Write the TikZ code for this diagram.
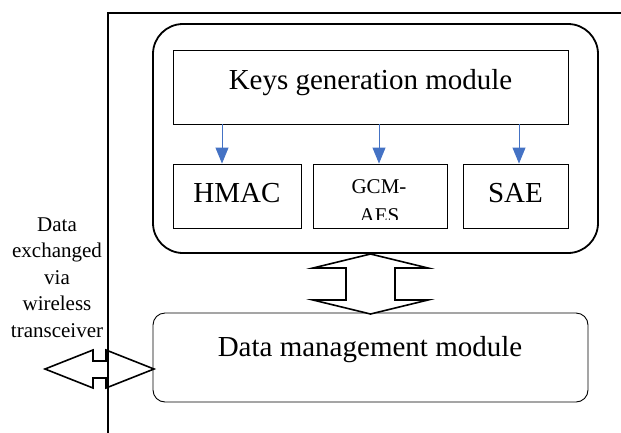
\documentclass[tikz,border=0pt]{standalone}
\usepackage{fontspec}
\setmainfont{Liberation Serif}
\usetikzlibrary{arrows.meta}
\definecolor{keyblue}{RGB}{68,114,196}
\begin{document}
\begin{tikzpicture}[x=1pt,y=-1pt,
  thinbox/.style={draw=black,line width=0.9pt,inner sep=0pt},
  heavy/.style={draw=black,line width=1.8pt},
  bigtext/.style={font=\fontsize{29}{34}\selectfont,inner sep=0pt},
  smalltext/.style={font=\fontsize{21}{26.5}\selectfont,inner sep=0pt},
  keyarrow/.style={draw=keyblue,line width=0.9pt,-{Triangle[length=16pt,width=13pt]}},
  blockarrow/.style={draw=black,line width=1.6pt,line join=miter,fill=white}]
\useasboundingbox (0,0) rectangle (621,432);

% outer enclosure (open to the right and bottom)
\draw[heavy] (625,13) -- (108,13) -- (108,436);

% security block
\node[heavy,rounded corners=30pt,minimum width=445pt,minimum height=229pt,inner sep=0pt]
  (crypto) at (375.5,138.5) {};
\node[thinbox,minimum width=395pt,minimum height=74pt] (keys) at (370.5,87) {};
\node[bigtext,anchor=base] (keyslabel) at (370.5,89) {Keys generation module};

\node[thinbox,minimum width=128pt,minimum height=64pt] (hmac) at (237,196) {};
\node[thinbox,minimum width=134pt,minimum height=64pt] (gcm) at (380,196) {};
\node[thinbox,minimum width=105pt,minimum height=64pt] (sae) at (515.5,196) {};

\node[bigtext,anchor=base] (hmaclabel) at (237,202) {HMAC};
\node[bigtext,anchor=base] (saelabel) at (515.5,202) {SAE};
\begin{scope}
  \clip (313,164) rectangle (447,219.5);
  \node[smalltext,anchor=base] (gcmlabel) at (379,193) {GCM-};
  \node[smalltext,anchor=base] (aeslabel) at (379.5,222) {AES};
\end{scope}

% key distribution arrows
\coordinate (k1) at (222,0);
\coordinate (k2) at (379,0);
\coordinate (k3) at (519,0);
\draw[keyarrow] (keys.south -| k1) -- (hmac.north -| k1);
\draw[keyarrow] (keys.south -| k2) -- (gcm.north -| k2);
\draw[keyarrow] (keys.south -| k3) -- (sae.north -| k3);

% data management block
\node[thinbox,rounded corners=12pt,minimum width=435pt,minimum height=89pt]
  (dm) at (370.5,357.5) {};
\node[bigtext,anchor=base] (dmlabel) at (370,356) {Data management module};

% two-way block arrow between the blocks
\draw[blockarrow] (370.5,254) -- (428,268) -- (395,268) -- (395,300) -- (428,300)
  -- (370.5,314) -- (313,300) -- (346,300) -- (346,268) -- (313,268) -- cycle;

% two-way block arrow to the outside
\draw[blockarrow,fill=none] (45,369) -- (93,350) -- (93,361) -- (106,361) -- (106,350)
  -- (154,369) -- (106,388) -- (106,378) -- (93,378) -- (93,388) -- cycle;

% caption of the outside link (base anchor sits on the last line)
\node[smalltext,align=center,anchor=base] (extlabel) at (57,337)
  {Data\\exchanged\\via\\wireless\\transceiver};
\end{tikzpicture}
\end{document}
